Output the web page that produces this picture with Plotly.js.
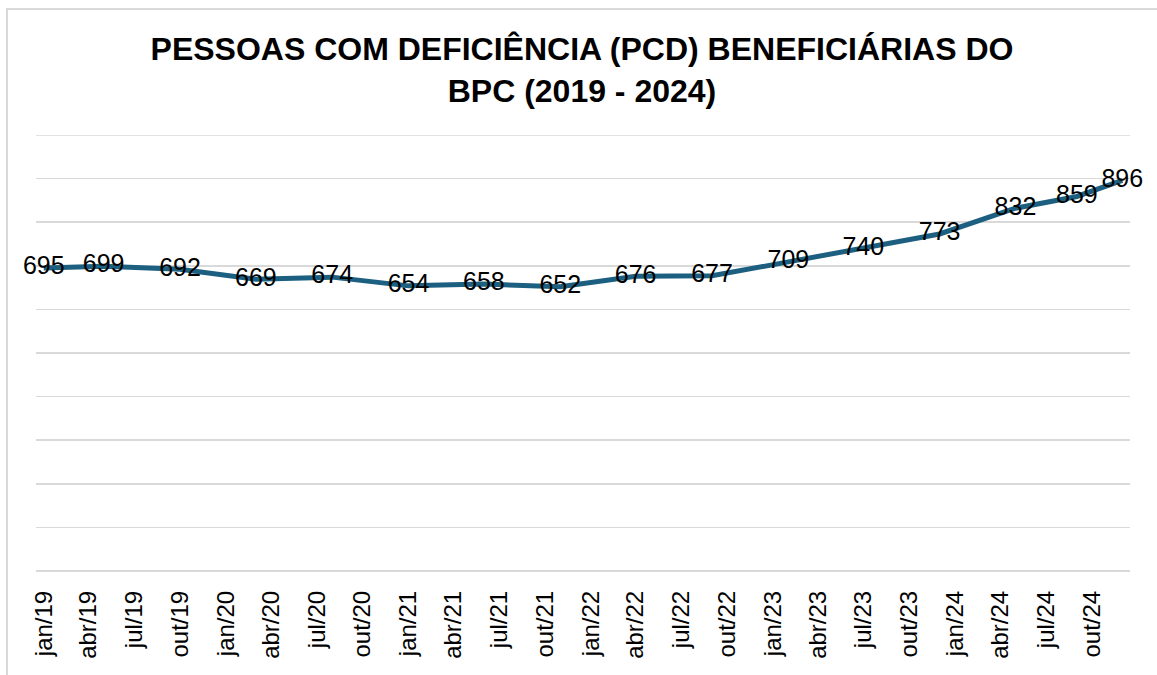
<!DOCTYPE html>
<html>
<head>
<meta charset="utf-8">
<script src="https://cdn.plot.ly/plotly-3.0.1.min.js"></script>
<style>
  html, body { margin: 0; padding: 0; background: #ffffff; }
  #chart { position: absolute; left: 0; top: 0; width: 1157px; height: 675px; }
  #frame { position: absolute; left: 6px; top: 8px; width: 1160px; height: 680px;
           border-left: 2px solid #d9d9d9; border-top: 2px solid #d9d9d9; pointer-events: none; }
</style>
</head>
<body>
<div id="chart"></div>
<div id="frame"></div>
<script>
// Data points (date of observation, beneficiaries in thousands)
const pointDates = ['2019-01-01','2019-05-01','2019-10-01','2020-03-01','2020-08-01','2021-01-01',
                    '2021-06-01','2021-11-01','2022-04-01','2022-09-01','2023-02-01','2023-07-01',
                    '2023-12-01','2024-05-01','2024-09-01','2024-12-01'];
const values = [695, 699, 692, 669, 674, 654, 658, 652, 676, 677, 709, 740, 773, 832, 859, 896];

// X-axis ticks (quarterly)
const tickDates = ['2019-01-01','2019-04-01','2019-07-01','2019-10-01',
                   '2020-01-01','2020-04-01','2020-07-01','2020-10-01',
                   '2021-01-01','2021-04-01','2021-07-01','2021-10-01',
                   '2022-01-01','2022-04-01','2022-07-01','2022-10-01',
                   '2023-01-01','2023-04-01','2023-07-01','2023-10-01',
                   '2024-01-01','2024-04-01','2024-07-01','2024-10-01'];
const tickLabels = ['jan/19','abr/19','jul/19','out/19',
                    'jan/20','abr/20','jul/20','out/20',
                    'jan/21','abr/21','jul/21','out/21',
                    'jan/22','abr/22','jul/22','out/22',
                    'jan/23','abr/23','jul/23','out/23',
                    'jan/24','abr/24','jul/24','out/24'];

const FONT = 'Arial, "Liberation Sans", sans-serif';

const trace = {
  type: 'scatter',
  mode: 'lines+text',
  x: pointDates,
  y: values,
  text: values.map(String),
  textposition: 'middle center',
  textfont: { family: FONT, size: 25, color: '#000000' },
  line: { color: '#1c5f80', width: 5 },
  cliponaxis: false,
  hoverinfo: 'x+y'
};

const layout = {
  width: 1157,
  height: 675,
  margin: { l: 36, r: 27, t: 135, b: 104 },
  paper_bgcolor: 'rgba(0,0,0,0)',
  plot_bgcolor: '#ffffff',
  showlegend: false,
  title: {
    text: '<b>PESSOAS COM DEFICIÊNCIA (PCD) BENEFICIÁRIAS DO<br>BPC (2019 - 2024)</b>',
    font: { family: FONT, size: 32, color: '#000000' },
    x: 0.503, xref: 'container', xanchor: 'center',
    y: 1 - 60 / 675, yref: 'container', yanchor: 'top'
  },
  shapes: [{
    type: 'line', xref: 'paper', yref: 'y',
    x0: 0, x1: 1, y0: 1000, y1: 1000,
    line: { color: '#d9d9d9', width: 1.5 },
    layer: 'below'
  }],
  xaxis: {
    type: 'date',
    range: ['2018-12-16 12:00', '2024-12-16 12:00'],
    tickmode: 'array',
    tickvals: tickDates,
    ticktext: tickLabels,
    tickangle: -90,
    tickfont: { family: FONT, size: 24, color: '#000000' },
    ticks: '',
    ticklabelstandoff: 14,
    showgrid: false,
    showline: false,
    zeroline: false,
    fixedrange: true
  },
  yaxis: {
    range: [0, 1000],
    dtick: 100,
    tick0: 0,
    showticklabels: false,
    showgrid: true,
    gridcolor: '#d9d9d9',
    gridwidth: 1.5,
    zeroline: true,
    zerolinecolor: '#d9d9d9',
    zerolinewidth: 1.5,
    showline: false,
    ticks: '',
    fixedrange: true
  }
};

Plotly.newPlot('chart', [trace], layout, { displayModeBar: false, staticPlot: true });
</script>
</body>
</html>
